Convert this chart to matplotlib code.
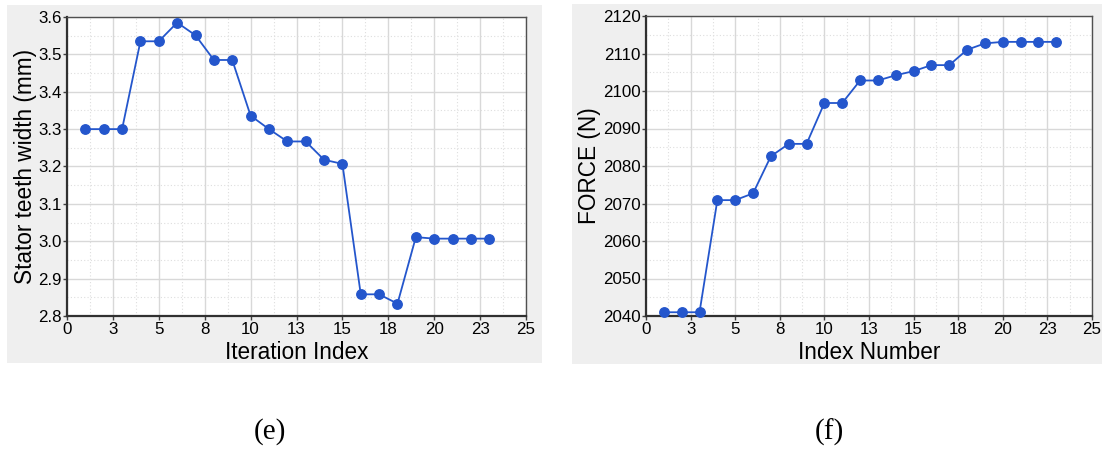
import matplotlib
matplotlib.use("Agg")
import matplotlib.pyplot as plt
from matplotlib.patches import Rectangle
from matplotlib.ticker import FixedLocator, MultipleLocator

# ---- data ----
iter_index = list(range(1, 24))
teeth_width = [3.300, 3.300, 3.300, 3.535, 3.535, 3.585, 3.551, 3.485, 3.485,
               3.336, 3.300, 3.267, 3.267, 3.218, 3.207, 2.858, 2.858, 2.833,
               3.011, 3.007, 3.007, 3.007, 3.007]
index_number = list(range(1, 24))
force = [2041.0, 2041.0, 2041.0, 2070.9, 2070.9, 2072.7, 2082.6, 2085.9, 2085.9,
         2096.8, 2096.8, 2102.8, 2102.8, 2104.2, 2105.3, 2106.9, 2106.9, 2111.0,
         2112.7, 2113.1, 2113.1, 2113.1, 2113.1]
x_tick_pos = [0, 2.5, 5, 7.5, 10, 12.5, 15, 17.5, 20, 22.5, 25]
x_tick_labels = ["0", "3", "5", "8", "10", "13", "15", "18", "20", "23", "25"]
panel_labels = ["(e)", "(f)"]

W, H = 1106, 453
fig = plt.figure(figsize=(W / 100, H / 100), dpi=100)
fig.patch.set_facecolor("white")

def px_rect(x0, y0, x1, y1):
    return [x0 / W, 1 - y1 / H, (x1 - x0) / W, (y1 - y0) / H]

# gray panels
for (x0, y0, x1, y1) in [(7, 5, 542, 363), (572, 4, 1102, 364)]:
    r = px_rect(x0, y0, x1, y1)
    fig.patches.append(Rectangle((r[0], r[1]), r[2], r[3], transform=fig.transFigure,
                                 facecolor="#efefef", edgecolor="none", zorder=-10))

line_color = "#2456cc"
font = "Liberation Sans"

def setup(ax, x, y, ylim, ymajor, yminor, yfmt, xlabel, ylabel):
    ax.set_facecolor("white")
    ax.plot(x, y, color=line_color, lw=1.3, marker="o", ms=6.8, zorder=3, clip_on=False)
    ax.set_xlim(0, 25)
    ax.set_ylim(*ylim)
    ax.xaxis.set_major_locator(FixedLocator(x_tick_pos))
    ax.set_xticklabels(x_tick_labels)
    ax.xaxis.set_minor_locator(MultipleLocator(1.25))
    ax.yaxis.set_major_locator(MultipleLocator(ymajor))
    ax.yaxis.set_minor_locator(MultipleLocator(yminor))
    ax.yaxis.set_major_formatter(yfmt)
    ax.grid(which="major", color="#d8d8d8", lw=1.0)
    ax.grid(which="minor", color="#dedede", lw=0.8, ls=(0, (1, 2)))
    ax.set_axisbelow(True)
    ax.tick_params(which="major", direction="out", length=3, width=1, color="#404040",
                   labelsize=12.2, pad=1)
    ax.tick_params(which="minor", length=0)
    for lab in ax.get_xticklabels() + ax.get_yticklabels():
        lab.set_fontfamily(font)
    for s in ax.spines.values():
        s.set_color("#505050")
        s.set_linewidth(1.0)
    ax.spines["left"].set_linewidth(1.6)
    ax.spines["bottom"].set_linewidth(1.6)
    ax.spines["left"].set_color("#303030")
    ax.spines["bottom"].set_color("#303030")
    ax.set_xlabel(xlabel, fontsize=16.3, family=font, labelpad=3.5)
    ax.set_ylabel(ylabel, fontsize=16.3, family=font, labelpad=1)

ax1 = fig.add_axes(px_rect(67, 17, 526, 316))
setup(ax1, iter_index, teeth_width, (2.8, 3.6), 0.1, 0.05, "{x:.1f}",
      "Iteration Index", "Stator teeth width (mm)")

ax2 = fig.add_axes(px_rect(646, 16, 1092, 316))
setup(ax2, index_number, force, (2040, 2120), 10, 5, "{x:.0f}",
      "Index Number", "FORCE (N)")

fig.text(270 / W, 1 - 432 / H, panel_labels[0], ha="center", va="center",
         fontsize=21, family="Liberation Serif")
fig.text(829 / W, 1 - 432 / H, panel_labels[1], ha="center", va="center",
         fontsize=21, family="Liberation Serif")

fig.savefig("out.png", dpi=100)
